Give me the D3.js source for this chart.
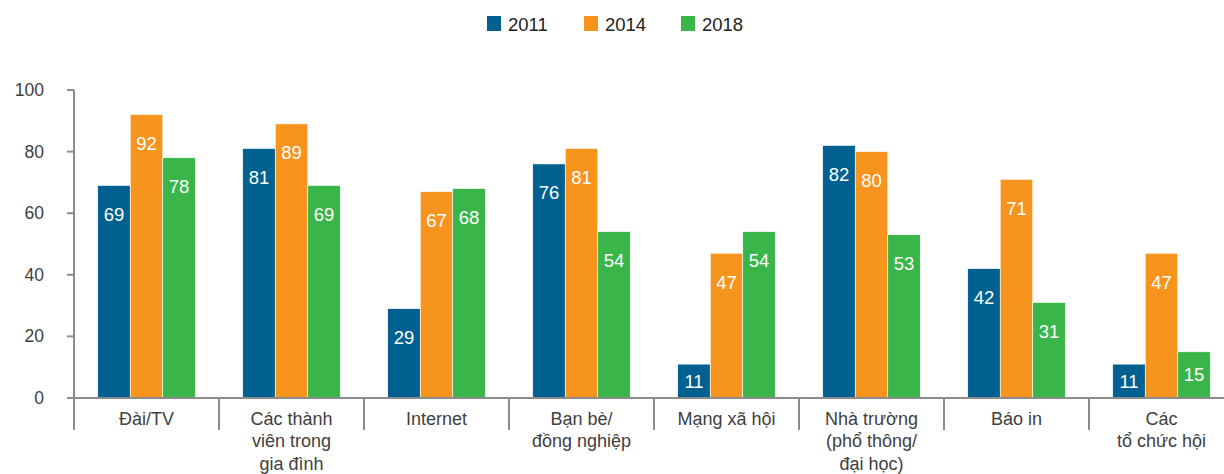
<!DOCTYPE html>
<html><head><meta charset="utf-8">
<script src="https://cdn.jsdelivr.net/npm/d3@7"></script>
<style>body{margin:0;background:#fff;}svg{display:block;font-family:"Liberation Sans",Arial,sans-serif;}</style>
</head><body><svg id="c" width="1224" height="474"></svg>
<script>
const categories = [["Đài/TV"],["Các thành","viên trong","gia đình"],["Internet"],["Bạn bè/","đồng nghiệp"],["Mạng xã hội"],["Nhà trường","(phổ thông/","đại học)"],["Báo in"],["Các","tổ chức hội"]];
const seriesNames = ["2011","2014","2018"];
const v2011 = [69,81,29,76,11,82,42,11];
const v2014 = [92,89,67,81,47,80,71,47];
const v2018 = [78,69,68,54,54,53,31,15];
const colors = ["#00608f","#f7941e","#3ab54a"];
const yTicks = [0,20,40,60,80,100];

const series = [v2011,v2014,v2018];
const svg = d3.select("#c");
const x0 = 74, catW = 145, yBase = 398, yTop = 90;
const idx = categories.map((d,i)=>i);
const x = d3.scaleBand().domain(idx).range([x0, x0+catW*categories.length]).paddingInner(0).paddingOuter(0);
const xi = d3.scaleBand().domain([0,1,2]).range([0, x.bandwidth()]).paddingInner(0).paddingOuter(0.73);
const y = d3.scaleLinear().domain([0,100]).range([yBase, yTop]);
const grey = "#8c8c8c", txt = "#404040";

// bars
series.forEach((vals,s)=>{
  const g = svg.append("g");
  g.selectAll("rect").data(vals).join("rect")
    .attr("x",(d,i)=>x(i)+xi(s)).attr("y",d=>y(d))
    .attr("width",xi.bandwidth()).attr("height",d=>y(0)-y(d))
    .attr("fill",colors[s]).attr("stroke","#fff").attr("stroke-width",0.6);
  g.selectAll("text").data(vals).join("text")
    .attr("x",(d,i)=>x(i)+xi(s)+xi.bandwidth()/2)
    .attr("y",d=>{const h=y(0)-y(d); return y(d)+Math.min(29,h/2)+6.5;})
    .attr("text-anchor","middle").attr("fill","#fff").attr("font-size",18.5)
    .text(d=>d);
});

// y axis
const yAxis = svg.append("g");
yAxis.append("line").attr("x1",x0).attr("x2",x0).attr("y1",y(100)).attr("y2",430).attr("stroke",grey).attr("stroke-width",2);
yAxis.selectAll("line.t").data(yTicks).join("line").attr("class","t")
  .attr("x1",67).attr("x2",x0).attr("y1",d=>y(d)).attr("y2",d=>y(d)).attr("stroke",grey).attr("stroke-width",2);
yAxis.selectAll("text").data(yTicks).join("text")
  .attr("x",44).attr("y",d=>y(d)+6).attr("text-anchor","end").attr("fill",txt).attr("font-size",17.5).text(d=>d);

// x axis
svg.append("line").attr("x1",67).attr("x2",1240).attr("y1",yBase).attr("y2",yBase).attr("stroke",grey).attr("stroke-width",2);
svg.selectAll("line.sep").data(d3.range(categories.length+1)).join("line").attr("class","sep")
  .attr("x1",d=>x0+d*catW).attr("x2",d=>x0+d*catW).attr("y1",yBase).attr("y2",430).attr("stroke",grey).attr("stroke-width",2);
const labs = svg.append("g").selectAll("text").data(categories).join("text")
  .attr("text-anchor","middle").attr("fill",txt).attr("font-size",18);
labs.each(function(lines,i){
  d3.select(this).selectAll("tspan").data(lines).join("tspan")
    .attr("x",x(i)+x.bandwidth()/2).attr("y",(d,j)=>424.5+j*22.5).text(d=>d);
});

// legend
const leg = svg.append("g");
seriesNames.forEach((n,i)=>{
  const lx = 487 + i*97;
  leg.append("rect").attr("x",lx).attr("y",16).attr("width",14).attr("height",15).attr("fill",colors[i]);
  leg.append("text").attr("x",lx+21).attr("y",30.5).attr("fill","#222").attr("font-size",18.5).text(n);
});
</script></body></html>
